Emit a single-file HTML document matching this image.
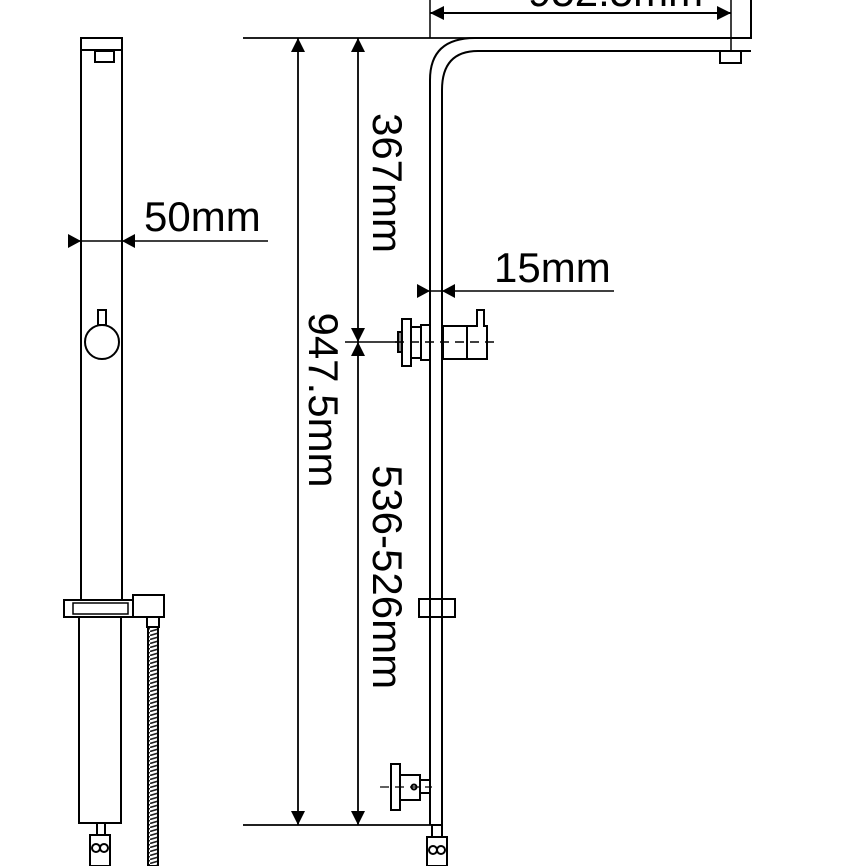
<!DOCTYPE html>
<html><head><style>html,body{margin:0;padding:0;background:#fff}svg{display:block}</style></head><body>
<svg width="866" height="866" viewBox="0 0 866 866" xmlns="http://www.w3.org/2000/svg">
<defs>
<marker id="a" viewBox="0 0 10 10" refX="10" refY="5" markerWidth="14" markerHeight="14" markerUnits="userSpaceOnUse" orient="auto-start-reverse"><path d="M0,0L10,5L0,10z" fill="#000"/></marker>
<pattern id="hose" width="10" height="4" patternUnits="userSpaceOnUse"><rect width="10" height="4" fill="#fff"/><path d="M0,3.5L10,0.5" stroke="#222" stroke-width="1.6"/></pattern>
</defs>
<g fill="none" stroke="#000" stroke-width="2">
<rect x="81" y="38" width="41" height="562"/>
<line x1="81" y1="50" x2="122" y2="50"/>
<rect x="95" y="51" width="19" height="11"/>
<circle cx="102" cy="342" r="17"/>
<rect x="98" y="310" width="8" height="15"/>
<rect x="64" y="600" width="69" height="17"/>
<rect x="73" y="603" width="55" height="11" stroke-width="1.5"/>
<rect x="133" y="595" width="31" height="22"/>
<rect x="79" y="617" width="42" height="206"/>
<rect x="148" y="617" width="10" height="249" fill="url(#hose)"/>
<rect x="147" y="617" width="12" height="10" fill="#fff"/>
<rect x="97" y="823" width="8" height="12"/>
<rect x="90" y="835" width="20" height="31"/>
<circle cx="96" cy="848" r="4"/><circle cx="104" cy="848" r="4"/>
<line x1="68" y1="241" x2="268" y2="241" stroke-width="1.5"/>
<path d="M68,234L81,241L68,248z M135,234L122,241L135,248z" fill="#000" stroke="none"/>
<line x1="243" y1="38" x2="487" y2="38" stroke-width="1.8"/>
<line x1="243" y1="825" x2="432" y2="825" stroke-width="1.8"/>
<line x1="345" y1="342" x2="400" y2="342" stroke-width="1.5"/>
<line x1="298" y1="38" x2="298" y2="825" stroke-width="1.8" marker-start="url(#a)" marker-end="url(#a)"/>
<line x1="358" y1="38" x2="358" y2="342" stroke-width="1.8" marker-start="url(#a)" marker-end="url(#a)"/>
<line x1="358" y1="342" x2="358" y2="825" stroke-width="1.8" marker-start="url(#a)" marker-end="url(#a)"/>
<path d="M430,825V80Q430,38 475,38H751V0"/>
<path d="M442,825V90Q442,51 478,51H751"/>
<rect x="720" y="51" width="21" height="12"/>
<line x1="430" y1="0" x2="430" y2="38" stroke-width="1.5"/>
<line x1="731" y1="0" x2="731" y2="51" stroke-width="1.5"/>
<line x1="430" y1="13" x2="731" y2="13" stroke-width="2" marker-start="url(#a)" marker-end="url(#a)"/>
<line x1="418" y1="291" x2="614" y2="291" stroke-width="1.5"/>
<path d="M417,284L430,291L417,298z M455,284L442,291L455,298z" fill="#000" stroke="none"/>
<rect x="398" y="332" width="4" height="20" fill="#888"/>
<rect x="402" y="319" width="9" height="47"/>
<rect x="411" y="327" width="10" height="31"/>
<rect x="421" y="325" width="9" height="35"/>
<path d="M443,326H477V310H484V326H487V359H443z"/>
<line x1="467" y1="326" x2="467" y2="359"/>
<line x1="395" y1="342" x2="497" y2="342" stroke-width="1.5" stroke-dasharray="9,6"/>
<rect x="419" y="599" width="36" height="18" fill="#fff"/>
<line x1="430" y1="599" x2="430" y2="617"/><line x1="442" y1="599" x2="442" y2="617"/>
<rect x="391" y="764" width="9" height="46"/>
<rect x="400" y="775" width="20" height="25"/>
<rect x="420" y="780" width="10" height="13"/>
<circle cx="414" cy="787" r="2.5"/>
<line x1="380" y1="787" x2="432" y2="787" stroke-width="1.2" stroke-dasharray="9,6"/>
<rect x="432" y="825" width="10" height="12"/>
<rect x="427" y="837" width="20" height="29"/>
<circle cx="433" cy="850" r="4"/><circle cx="441" cy="850" r="4"/>
</g>
<g font-family="Liberation Sans, sans-serif" font-size="42" fill="#000">
<text x="144" y="231">50mm</text>
<text x="494" y="282">15mm</text>
<text x="528" y="6">952.5mm</text>
<text transform="translate(373,183) rotate(90)" text-anchor="middle">367mm</text>
<text transform="translate(309,400) rotate(90)" text-anchor="middle">947.5mm</text>
<text transform="translate(373,577) rotate(90)" text-anchor="middle">536-526mm</text>
</g>
</svg>
</body></html>
